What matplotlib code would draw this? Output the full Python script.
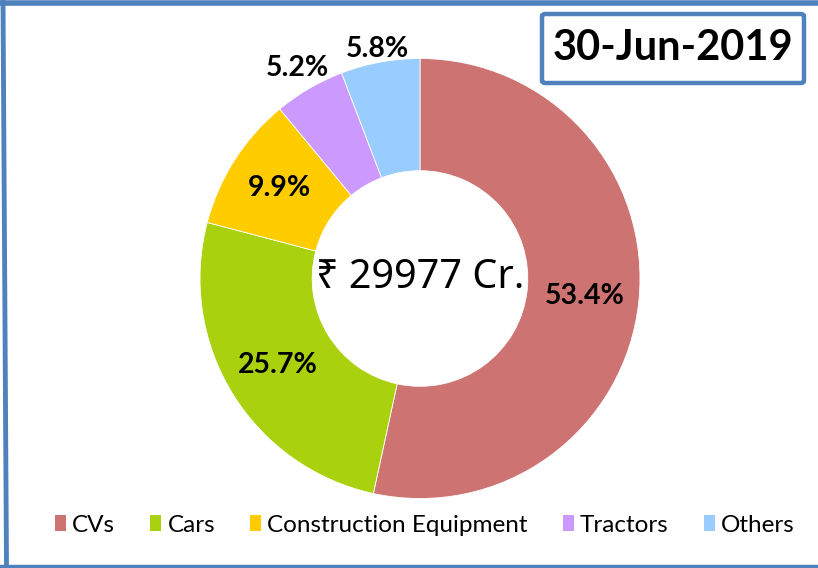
import matplotlib
matplotlib.use("Agg")
import matplotlib.pyplot as plt
from matplotlib.lines import Line2D
from matplotlib.patches import FancyBboxPatch, Patch
import numpy as np

categories = ["CVs", "Cars", "Construction Equipment", "Tractors", "Others"]
shares = [53.4, 25.7, 9.9, 5.2, 5.8]
colors = ["#CD7371", "#A9D10D", "#FFCC00", "#CC99FF", "#99CCFF"]
label_radius = [0.755, 0.756, 0.76, 1.11, 1.06]
center_text = "₹ 29977 Cr."
date_text = "30-Jun-2019"

W, H = 818, 568
fig = plt.figure(figsize=(W / 100, H / 100), dpi=100)
fig.patch.set_facecolor("white")

lato = ["Lato", "DejaVu Sans"]

# donut axes: center (420, 278.5) px from top, radius 220 px
cx, cy, R = 420, 278.5, 220
ax = fig.add_axes([(cx - R) / W, (H - cy - R) / H, 2 * R / W, 2 * R / H])

wedges, _ = ax.pie(shares, colors=colors, startangle=90, counterclock=False,
                   radius=1.0, wedgeprops=dict(width=0.51, edgecolor="white", linewidth=0.6))
ax.set_xlim(-1, 1)
ax.set_ylim(-1, 1)
ax.set_aspect("equal")
ax.axis("off")

for w, s, r in zip(wedges, shares, label_radius):
    mid = np.deg2rad((w.theta1 + w.theta2) / 2)
    ax.text(r * np.cos(mid), r * np.sin(mid), f"{s:.1f}%", ha="center", va="center",
            fontsize=20.5, fontweight="bold", family=lato, color="black", clip_on=False)

ax.text(0, 0, center_text, ha="center", va="center", fontsize=28.5,
        family=["Noto Sans", "DejaVu Sans"], color="black")

# date box
bx0, by0, bx1, by1 = 542, 14, 804, 83
fig.patches.append(FancyBboxPatch((bx0 / W, 1 - by1 / H), (bx1 - bx0) / W, (by1 - by0) / H,
                                  boxstyle="round,pad=0,rounding_size=0.004",
                                  transform=fig.transFigure, facecolor="white",
                                  edgecolor="#4F81BD", linewidth=3.2))
fig.text((bx0 + bx1) / 2 / W, 1 - (by0 + by1) / 2 / H, date_text, ha="center", va="center",
         fontsize=30, fontweight="bold", family=lato, color="black")

# outer border lines
blue = "#4F81BD"
fig.add_artist(Line2D([0, 1], [1 - 2.5 / H, 1 - 2.5 / H], transform=fig.transFigure, color=blue, linewidth=4))
fig.add_artist(Line2D([3 / W, 6.5 / W], [1, 0], transform=fig.transFigure, color=blue, linewidth=3.5))
fig.add_artist(Line2D([0, 1], [2.5 / H, 2.5 / H], transform=fig.transFigure, color=blue, linewidth=2.5))

handles = [Patch(facecolor=c, edgecolor="none") for c in colors]
fig.legend(handles, categories, loc="center", bbox_to_anchor=(425 / W, 1 - 525 / H), ncol=5,
           frameon=False, prop=dict(family=lato, size=17.5), handlelength=0.45, handleheight=0.6,
           handletextpad=0.25, columnspacing=1.45)

fig.savefig("out.png", dpi=100)
